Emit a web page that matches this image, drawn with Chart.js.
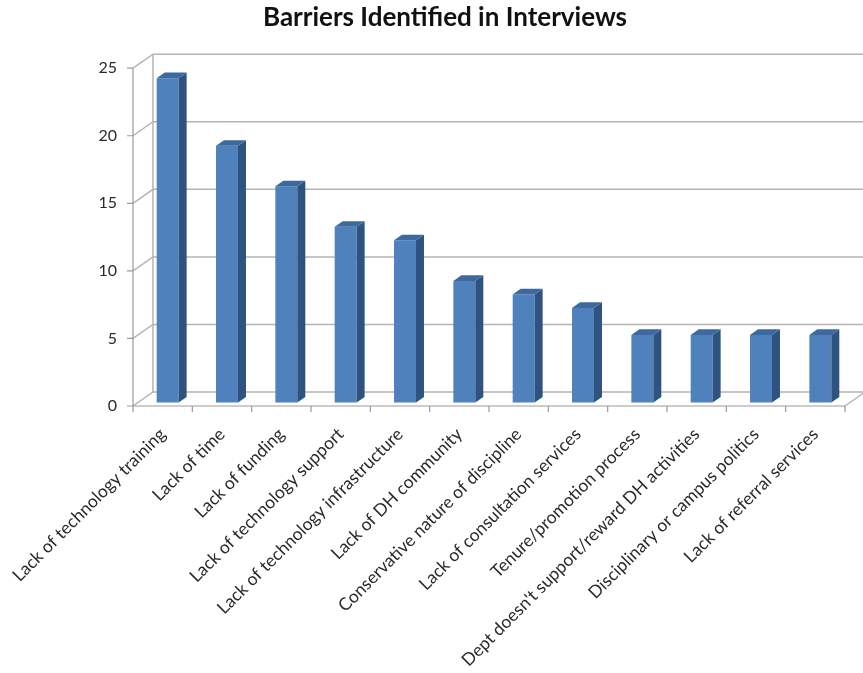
<!DOCTYPE html>
<html>
<head>
<meta charset="utf-8">
<script src="https://cdn.jsdelivr.net/npm/chart.js@4/dist/chart.umd.min.js"></script>
<style>
  html, body { margin: 0; background: #fff; }
</style>
</head>
<body>
<canvas id="chart" width="863" height="673"></canvas>
<script>
// ── data ────────────────────────────────────────────────
const categories = [
  "Lack of technology training",
  "Lack of time",
  "Lack of funding",
  "Lack of technology support",
  "Lack of technology infrastructure",
  "Lack of DH community",
  "Conservative nature of discipline",
  "Lack of consultation services",
  "Tenure/promotion process",
  "Dept doesn't support/reward DH activities",
  "Disciplinary or campus politics",
  "Lack of referral services"
];
const counts = [24, 19, 16, 13, 12, 9, 8, 7, 5, 5, 5, 5];
const yTicks = [0, 5, 10, 15, 20, 25];
const chartTitle = "Barriers Identified in Interviews";

// ── look ────────────────────────────────────────────────
const FONT = "Lato, 'Open Sans', sans-serif";
const FRONT = "#4f81bd", SIDE = "#2f5380", TOP = "#3d699f";
const GRID = "#b4b4b4", AXIS = "#9a9a9a";
const DX = 20, DY = -14;                 // depth of the back wall
const BAR_FRONT = 0.25, BAR_BACK = 0.65; // bar depth as share of the wall depth

// Excel-style 3D box: walls, floor, and the side/top faces of each column
const box3d = {
  id: "box3d",
  beforeDatasetsDraw(chart) {
    const { ctx, chartArea: a, scales: { x, y } } = chart;
    const topY = y.getPixelForValue(yTicks[yTicks.length - 1]);
    ctx.save();
    ctx.lineWidth = 1.5;
    ctx.strokeStyle = GRID;
    // gridlines on the back wall, with their slant on the left wall
    yTicks.forEach(v => {
      const py = y.getPixelForValue(v);
      ctx.beginPath();
      ctx.moveTo(a.left, py);
      ctx.lineTo(a.left + DX, py + DY);
      ctx.lineTo(a.right + DX, py + DY);
      ctx.stroke();
    });
    ctx.beginPath();
    ctx.moveTo(a.left + DX, topY + DY);
    ctx.lineTo(a.left + DX, a.bottom + DY);
    ctx.moveTo(a.right, a.bottom);
    ctx.lineTo(a.right + DX, a.bottom + DY);
    ctx.stroke();

    // front axes
    ctx.strokeStyle = AXIS;
    ctx.lineWidth = 1.2;
    ctx.beginPath();
    ctx.moveTo(a.left, topY);
    ctx.lineTo(a.left, a.bottom);
    ctx.lineTo(a.right, a.bottom);
    yTicks.forEach(v => {
      const py = y.getPixelForValue(v);
      ctx.moveTo(a.left - 6, py);
      ctx.lineTo(a.left, py);
    });
    const half = (x.getPixelForValue(1) - x.getPixelForValue(0)) / 2;
    for (let i = 0; i <= categories.length; i++) {
      const px = i < categories.length ? x.getPixelForValue(i) - half
                                       : x.getPixelForValue(i - 1) + half;
      ctx.moveTo(px, a.bottom);
      ctx.lineTo(px, a.bottom + 6);
    }
    ctx.stroke();
    ctx.restore();
  },
  beforeDatasetDraw(chart) {
    chart.ctx.save();
    chart.ctx.translate(DX * BAR_FRONT, DY * BAR_FRONT);
  },
  afterDatasetDraw(chart, args) {
    const ctx = chart.ctx;
    const sx = DX * (BAR_BACK - BAR_FRONT), sy = DY * (BAR_BACK - BAR_FRONT);
    args.meta.data.forEach(bar => {
      const { x: cx, y: top, base, width } = bar.getProps(["x", "y", "base", "width"], true);
      const l = cx - width / 2, r = cx + width / 2;
      ctx.fillStyle = SIDE;
      ctx.beginPath();
      ctx.moveTo(r, top);
      ctx.lineTo(r + sx, top + sy);
      ctx.lineTo(r + sx, base + sy);
      ctx.lineTo(r, base);
      ctx.closePath();
      ctx.fill();
      ctx.fillStyle = TOP;
      ctx.beginPath();
      ctx.moveTo(l, top);
      ctx.lineTo(l + sx, top + sy);
      ctx.lineTo(r + sx, top + sy);
      ctx.lineTo(r, top);
      ctx.closePath();
      ctx.fill();
    });
    ctx.restore();
  }
};

new Chart(document.getElementById("chart"), {
  type: "bar",
  data: {
    labels: categories,
    datasets: [{
      data: counts,
      backgroundColor: FRONT,
      borderWidth: 0,
      barPercentage: 0.37,
      categoryPercentage: 1,
      clip: false
    }]
  },
  options: {
    responsive: false,
    animation: false,
    devicePixelRatio: 1,
    layout: { padding: { left: 45, right: 18, top: 0, bottom: 0 } },
    plugins: {
      legend: { display: false },
      tooltip: { enabled: false },
      title: {
        display: true,
        text: chartTitle,
        color: "#111",
        font: { family: FONT, size: 26, weight: "bold" },
        padding: { top: 2, bottom: 35 }
      }
    },
    scales: {
      x: {
        grid: { display: false, drawTicks: false },
        border: { display: false },
        ticks: {
          color: "#2a2a2a",
          font: { family: FONT, size: 17.5 },
          minRotation: 45,
          maxRotation: 45,
          autoSkip: false,
          padding: 18
        },
        afterFit(s) {
          s.height = 673 - 406;
          // rotated labels may hang left of the plot; keep the plot where it is
          s.paddingLeft = 0;
          s.paddingRight = 0;
        }
      },
      y: {
        min: 0,
        max: 25,
        grid: { display: false, drawTicks: false },
        border: { display: false },
        ticks: {
          stepSize: 5,
          color: "#2a2a2a",
          font: { family: FONT, size: 16 },
          padding: 16
        },
        afterFit(s) { s.width = 88; }
      }
    }
  },
  plugins: [box3d]
});
</script>
</body>
</html>
